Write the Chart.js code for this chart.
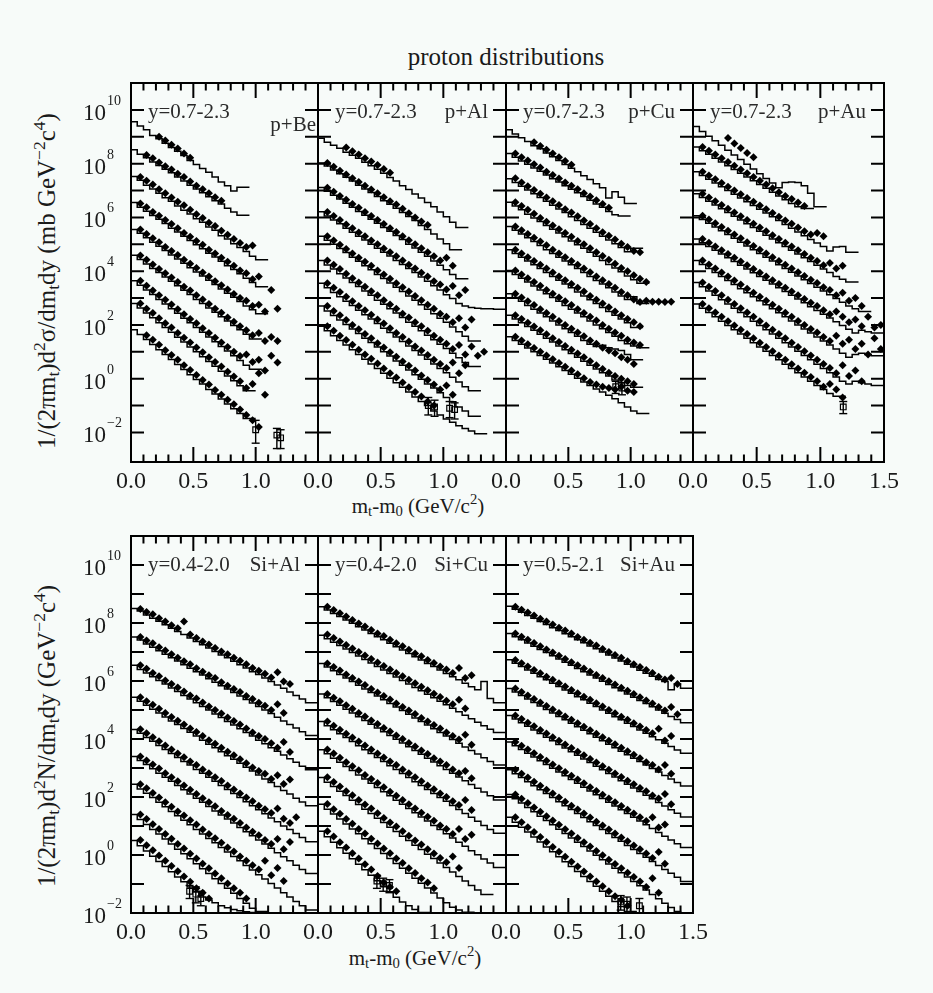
<!DOCTYPE html>
<html><head><meta charset="utf-8">
<script src="https://cdn.jsdelivr.net/npm/chart.js@4.4.1/dist/chart.umd.min.js"></script>
<style>
html,body{margin:0;padding:0}
body{background:#f7fbf9;width:933px;height:993px;position:relative;overflow:hidden;font-family:"Liberation Serif","DejaVu Serif",serif;color:#1a1a1a}
.t{position:absolute;white-space:nowrap;line-height:1}
.yt{position:absolute;white-space:nowrap;font-size:25px;line-height:1;transform:translate(-50%,-50%) rotate(-90deg)}
.xt{position:absolute;white-space:nowrap;font-size:21px;line-height:1;transform:translate(-50%,-50%)}
sub{font-size:70%;vertical-align:-0.25em;line-height:0}
sup{font-size:70%;vertical-align:0.55em;line-height:0}
.an{position:absolute;white-space:nowrap;font-size:21px;line-height:21px;color:#2a2a2a}
</style></head><body>
<div class="t" style="left:356px;width:300px;top:44px;text-align:center;font-size:25px">proton distributions</div>
<div class="yt" style="left:46px;top:281px">1/(2πm<sub>t</sub>)d<sup>2</sup>σ/dm<sub>t</sub>dy (mb GeV<sup>−2</sup>c<sup>4</sup>)</div>
<div class="yt" style="left:46px;top:736px">1/(2πm<sub>t</sub>)d<sup>2</sup>N/dm<sub>t</sub>dy (GeV<sup>−2</sup>c<sup>4</sup>)</div>
<div class="xt" style="left:418px;top:506px">m<sub>t</sub>-m<sub>0</sub> (GeV/c<sup>2</sup>)</div>
<div class="xt" style="left:415px;top:958px">m<sub>t</sub>-m<sub>0</sub> (GeV/c<sup>2</sup>)</div>
<script>
// ---------------- data (log10 of the plotted values) ----------------
const HIST_STEP = 0.05;            // histogram bin width and point spacing (GeV/c^2)
const X_TICK_LABELS = ['0.0','0.5','1.0','1.5'];
const Y_LABEL_EXPS = [10,8,6,4,2,0,-2];
const TOP_DECADES = [-2,-1,0,1,2,3,4,5,6,7,8,9,10];
const BOTTOM_DECADES = [-1,0,1,2,3,4,5,6,7,8,9,10];
const TOP_YMIN_EXP = -3.1, BOTTOM_YMIN_EXP = -2, YMAX_EXP = 11;
const PANEL_TAGS = ['p+Be','p+Al','p+Cu','p+Au','Si+Al','Si+Cu','Si+Au'];
const PANEL_RAPIDITY = ['y=0.7-2.3','y=0.7-2.3','y=0.7-2.3','y=0.7-2.3','y=0.4-2.0','y=0.4-2.0','y=0.5-2.1'];

// p+Be
const pBeHist = [
[9.68,9.56,9.4,9.26,9.05,8.93,8.76,8.6,8.46,8.3,8.12,7.97,7.82,7.68,7.5,7.32,7.18,6.98,7.12],
[8.66,8.52,8.35,8.22,8.06,7.93,7.79,7.66,7.5,7.35,7.2,7.06,6.92,6.77,6.62,6.5,6.34,6.2,6.08],
[7.68,7.52,7.38,7.2,7.06,6.9,6.73,6.6,6.42,6.27,6.13,5.95,5.82,5.64,5.52,5.32,5.2,5.02,4.88,4.73,4.55,4.42],
[6.7,6.55,6.38,6.23,6.07,5.93,5.77,5.6,5.46,5.3,5.14,4.98,4.83,4.67,4.53,4.37,4.2,4.06,3.9,3.74,3.58,3.42],
[5.72,5.55,5.41,5.24,5.08,4.93,4.77,4.6,4.45,4.29,4.13,3.97,3.82,3.66,3.5,3.34,3.18,3.03,2.87,2.7,2.56,2.42],
[4.75,4.59,4.43,4.27,4.1,3.95,3.78,3.62,3.46,3.29,3.13,2.95,2.8,2.63,2.47,2.3,2.15,1.98,1.82,1.65,1.48],
[3.8,3.64,3.48,3.3,3.13,2.95,2.78,2.6,2.43,2.25,2.08,1.9,1.73,1.55,1.37,1.2,1.03,0.85,0.68,0.5,0.35],
[2.98,2.8,2.63,2.44,2.27,2.08,1.9,1.73,1.54,1.36,1.18,1.0,0.82,0.64,0.46,0.28,0.1,-0.08,-0.26,-0.45],
[2.02,1.82,1.64,1.46,1.27,1.08,0.9,0.71,0.53,0.34,0.15,-0.03,-0.2,-0.4,-0.57,-0.76,-0.94,-1.12,-1.3,-1.48]
];
const pBePtStart = [4,2,1,1,1,1,1,1,2];
const pBePts = [
[9.0,8.86,8.7,8.56,8.38,8.22],
[8.32,8.2,8.04,7.9,7.78,7.62,7.5,7.34,7.18,7.05,6.9,6.75,6.62],
[7.5,7.36,7.22,7.05,6.9,6.74,6.58,6.45,6.28,6.12,5.98,5.8,5.68,5.5,5.35,5.2,5.05,4.9,4.95],
[6.52,6.38,6.2,6.06,5.9,5.75,5.6,5.42,5.28,5.12,4.98,4.8,4.66,4.5,4.35,4.2,4.02,3.92,3.7,3.8],
[5.55,5.38,5.22,5.08,4.9,4.75,4.6,4.42,4.28,4.12,3.95,3.8,3.62,3.48,3.32,3.15,3.0,2.9,2.7,2.75,2.5,3.3,2.6],
[4.58,4.42,4.25,4.08,3.92,3.76,3.6,3.42,3.28,3.1,2.95,2.78,2.6,2.45,2.28,2.12,1.95,1.8,1.62,1.7,1.4,1.55,1.4],
[3.64,3.46,3.28,3.1,2.94,2.76,2.58,2.4,2.22,2.06,1.88,1.7,1.52,1.35,1.18,1.0,0.84,0.9,0.62,0.7,0.3,0.85,0.6],
[2.8,2.6,2.44,2.25,2.06,1.9,1.7,1.52,1.35,1.16,0.98,0.8,0.62,0.45,0.26,0.08,-0.1,-0.35,-0.2,0.2,-0.6],
[1.62,1.45,1.26,1.06,0.88,0.7,0.5,0.32,0.14,-0.05,-0.22,-0.42,-0.6,-0.78,-0.95,-1.15,-1.35,-1.55,-1.8]
];
const pBeErr = [[1.0,-1.9,-1.55,-2.4],[1.17,-2.1,-1.85,-2.6],[1.2,-2.2,-1.9,-2.6]];

// p+Al
const pAlHist = [
[9.05,8.94,8.8,8.68,8.57,8.42,8.31,8.2,8.05,7.92,7.79,7.64,7.48,7.35,7.18,7.04,6.87,6.72,6.55,6.4,6.2,6.02,5.82,5.62],
[8.15,8.02,7.91,7.76,7.62,7.49,7.35,7.2,7.06,6.93,6.78,6.62,6.49,6.34,6.18,6.03,5.88,5.7,5.55,5.38,5.2,5.02,4.8],
[7.25,7.11,6.97,6.82,6.68,6.53,6.38,6.22,6.08,5.93,5.78,5.62,5.48,5.33,5.18,5.0,4.86,4.7,4.55,4.38,4.22,4.05,3.88,3.72],
[6.35,6.21,6.05,5.9,5.76,5.6,5.45,5.3,5.16,5.0,4.85,4.7,4.56,4.4,4.25,4.1,3.95,3.78,3.62,3.46,3.3,3.12,2.98,2.8,2.7,2.65,2.62,2.6,2.6,2.58],
[5.45,5.3,5.15,5.0,4.84,4.69,4.52,4.37,4.2,4.05,3.88,3.73,3.56,3.4,3.24,3.08,2.92,2.75,2.58,2.42,2.25,2.1,1.92,1.75,1.58,1.4],
[4.55,4.4,4.23,4.08,3.9,3.75,3.58,3.43,3.26,3.1,2.92,2.77,2.6,2.44,2.28,2.1,1.95,1.78,1.62,1.45,1.28,1.12,0.95,0.78,0.6,0.45],
[3.7,3.55,3.38,3.21,3.05,2.88,2.72,2.55,2.38,2.22,2.05,1.88,1.72,1.55,1.38,1.22,1.05,0.88,0.72,0.55,0.38,0.22,0.05,-0.12,-0.3,-0.45],
[2.85,2.7,2.52,2.35,2.18,2.02,1.85,1.68,1.5,1.35,1.18,1.0,0.84,0.66,0.5,0.32,0.15,-0.02,-0.2,-0.35,-0.52,-0.7,-0.86,-1.05,-1.2,-1.4],
[2.1,1.95,1.78,1.6,1.42,1.25,1.08,0.9,0.72,0.55,0.38,0.2,0.02,-0.15,-0.32,-0.5,-0.68,-0.85,-1.0,-1.2,-1.35,-1.5,-1.62,-1.75,-1.85,-1.95,-2.05]
];
const pAlPtStart = [4,1,1,1,1,1,1,1,1];
const pAlPts = [
[8.6,8.46,8.34,8.2,8.08,7.95,7.8,7.66],
[8.02,7.88,7.74,7.6,7.46,7.32,7.18,7.04,6.9,6.75,6.6,6.48,6.32,6.15,6.0,5.85,5.72],
[7.1,6.95,6.8,6.66,6.5,6.36,6.2,6.05,5.9,5.75,5.6,5.46,5.3,5.15,5.0,4.85,4.7,4.55,4.4,4.5,4.2],
[6.2,6.05,5.9,5.74,5.6,5.44,5.3,5.14,5.0,4.84,4.7,4.55,4.4,4.24,4.1,3.94,3.8,3.62,3.5,3.32,3.45,3.1,3.3],
[5.3,5.14,4.98,4.82,4.66,4.5,4.35,4.2,4.02,3.88,3.72,3.55,3.4,3.24,3.08,2.92,2.75,2.6,2.42,2.3,2.1,2.25,1.9,2.2],
[4.4,4.24,4.08,3.9,3.74,3.58,3.42,3.25,3.1,2.92,2.76,2.6,2.42,2.28,2.1,1.95,1.78,1.6,1.45,1.3,1.1,1.25,0.9,1.2,0.85,1.0],
[3.55,3.38,3.22,3.05,2.88,2.7,2.55,2.38,2.2,2.05,1.88,1.7,1.55,1.38,1.2,1.05,0.88,0.7,0.55,0.4,0.6,0.2,0.5],
[2.7,2.52,2.36,2.18,2.0,1.84,1.66,1.5,1.32,1.16,0.98,0.82,0.64,0.48,0.3,0.12,-0.05,-0.22,-0.4,-0.25,-0.6],
[1.95,1.78,1.6,1.44,1.26,1.08,0.9,0.74,0.56,0.38,0.2,0.04,-0.14,-0.32,-0.5,-0.66,-0.85,-1.0]
];
const pAlErr = [[0.88,-1.0,-0.7,-1.35],[0.93,-1.05,-0.8,-1.4],[1.05,-1.1,-0.85,-1.45],[1.09,-1.15,-0.9,-1.5]];

// p+Cu
const pCuHist = [
[9.38,9.26,9.1,8.96,8.82,8.67,8.55,8.4,8.26,8.12,7.97,7.83,7.7,7.55,7.41,7.25,7.1,6.72,6.95,6.75,6.52],
[8.5,8.38,8.24,8.1,7.98,7.84,7.72,7.58,7.44,7.32,7.18,7.05,6.92,6.78,6.64,6.5,6.38,6.22,6.1,6.05],
[7.58,7.44,7.3,7.16,7.02,6.88,6.74,6.6,6.45,6.31,6.18,6.02,5.88,5.74,5.6,5.45,5.3,5.16,5.02,4.88,4.72,4.85],
[6.7,6.56,6.42,6.28,6.12,5.98,5.85,5.7,5.56,5.42,5.28,5.12,4.98,4.85,4.7,4.55,4.4,4.25,4.12,3.98,3.82,3.68,3.55],
[5.8,5.66,5.52,5.38,5.24,5.1,4.95,4.8,4.66,4.52,4.38,4.24,4.1,3.95,3.8,3.65,3.52,3.38,3.22,3.08,2.95,3.05,2.8],
[4.95,4.8,4.66,4.52,4.38,4.24,4.1,3.95,3.8,3.66,3.52,3.38,3.22,3.08,2.94,2.8,2.65,2.5,2.36,2.22,2.08,1.9],
[4.17,4.02,3.88,3.74,3.6,3.45,3.3,3.16,3.02,2.88,2.72,2.58,2.44,2.3,2.15,2.0,1.86,1.72,1.58,1.42,1.3,1.22,1.15],
[3.3,3.16,3.02,2.88,2.72,2.58,2.44,2.3,2.15,2.0,1.86,1.72,1.58,1.42,1.28,1.2,1.24,1.15,1.1,1.05,0.9,0.7],
[2.5,2.36,2.22,2.08,1.94,1.8,1.65,1.5,1.36,1.22,1.08,0.94,0.8,0.65,0.5,0.36,0.22,0.1,-0.05,-0.15,-0.25,-0.32],
[1.7,1.56,1.42,1.28,1.14,1.0,0.86,0.72,0.58,0.44,0.3,0.16,0.02,-0.12,-0.25,-0.38,-0.5,-0.62,-0.75,-0.9,-1.05,-1.2,-1.3]
];
const pCuPtStart = [4,1,1,1,1,1,1,1,1,1];
const pCuPts = [
[8.8,8.66,8.52,8.38,8.24,8.1,7.96],
[8.38,8.24,8.12,7.98,7.86,7.7,7.58,7.45,7.3,7.18,7.05,6.9,6.78,6.64,6.5,6.36],
[7.46,7.3,7.16,7.02,6.88,6.74,6.6,6.46,6.3,6.18,6.04,5.88,5.75,5.6,5.45,5.32,5.18,5.02,4.9,4.75,4.7],
[6.56,6.42,6.28,6.14,5.98,5.84,5.7,5.56,5.42,5.28,5.12,5.0,4.85,4.7,4.56,4.42,4.28,4.12,4.0,3.85,3.72,3.6],
[5.66,5.52,5.38,5.24,5.1,4.96,4.8,4.66,4.52,4.38,4.24,4.1,3.96,3.8,3.66,3.52,3.38,3.22,3.1,2.95,2.85,2.9,2.86,2.86,2.85,2.86],
[4.8,4.66,4.52,4.38,4.24,4.1,3.95,3.8,3.66,3.52,3.38,3.24,3.08,2.94,2.8,2.66,2.5,2.36,2.22,2.1,1.95],
[4.02,3.88,3.74,3.6,3.46,3.3,3.16,3.02,2.88,2.74,2.58,2.44,2.3,2.16,2.0,1.86,1.72,1.6,1.45,1.35,1.25],
[3.16,3.02,2.88,2.74,2.58,2.44,2.3,2.15,2.0,1.86,1.72,1.58,1.42,1.3,1.15,1.05,0.95,0.8,0.7,0.55],
[2.36,2.22,2.08,1.94,1.8,1.65,1.5,1.36,1.22,1.08,0.94,0.8,0.65,0.5,0.36,0.22,0.1,0.0,-0.1,-0.2],
[1.56,1.42,1.28,1.14,1.0,0.86,0.72,0.58,0.44,0.3,0.16,0.02,-0.12,-0.22,-0.3,-0.35,-0.4,-0.3,-0.45,-0.5]
];
const pCuErr = [[0.88,-0.3,-0.1,-0.55],[0.93,-0.35,-0.15,-0.6]];

// p+Au
const pAuHist = [
[9.55,9.38,9.2,9.02,8.85,8.68,8.5,8.32,8.15,7.98,7.8,7.62,7.45,7.28,7.1,7.3,7.32,7.3,7.18,6.9,6.4],
[8.76,8.62,8.48,8.35,8.2,8.06,7.92,7.78,7.64,7.5,7.36,7.22,7.08,6.94,6.8,6.66,6.52,6.4,6.33],
[7.83,7.7,7.56,7.42,7.28,7.14,7.0,6.86,6.72,6.58,6.44,6.3,6.16,6.02,5.88,5.74,5.6,5.46,5.32,5.18,5.05,4.92,4.75,4.9,4.92,4.7],
[7.02,6.88,6.74,6.6,6.46,6.32,6.18,6.04,5.9,5.76,5.62,5.48,5.34,5.2,5.06,4.92,4.78,4.64,4.5,4.36,4.22,4.08,3.95,3.8,3.7,3.6],
[6.2,6.06,5.92,5.78,5.64,5.5,5.36,5.22,5.08,4.94,4.8,4.66,4.52,4.38,4.24,4.1,3.96,3.82,3.68,3.54,3.4,3.26,3.12,2.98,2.84,2.7,2.6,2.5],
[5.35,5.2,5.06,4.92,4.78,4.64,4.5,4.36,4.22,4.08,3.94,3.8,3.66,3.52,3.38,3.24,3.1,2.96,2.82,2.68,2.54,2.4,2.26,2.12,1.98,1.84,1.7,1.8,1.75,1.7],
[4.54,4.4,4.25,4.1,3.95,3.8,3.65,3.5,3.35,3.2,3.05,2.9,2.75,2.6,2.45,2.3,2.15,2.0,1.85,1.7,1.55,1.4,1.25,1.1,0.95,0.8,0.9,0.95,0.9,0.85],
[3.73,3.58,3.42,3.26,3.1,2.94,2.78,2.62,2.46,2.3,2.14,1.98,1.82,1.66,1.5,1.34,1.18,1.02,0.86,0.7,0.54,0.38,0.22,0.06,-0.1,-0.2,-0.1,-0.15,-0.2,-0.25],
[2.94,2.78,2.62,2.46,2.3,2.14,1.98,1.82,1.66,1.5,1.34,1.18,1.02,0.86,0.7,0.54,0.38,0.22,0.06,-0.1,-0.25,-0.4,-0.55,-0.65]
];
const pAuPtStart = [5,1,1,1,1,1,1,1,1];
const pAuPts = [
[8.95,8.75,8.58,8.4,8.24],
[8.62,8.48,8.34,8.2,8.06,7.92,7.78,7.64,7.5,7.36,7.22,7.08,6.94,6.8,6.68,6.55,6.42],
[7.7,7.56,7.42,7.28,7.14,7.0,6.86,6.72,6.58,6.44,6.3,6.16,6.02,5.88,5.76,5.62,5.48,5.36,5.42,5.3],
[6.88,6.74,6.6,6.46,6.32,6.18,6.04,5.9,5.76,5.62,5.48,5.34,5.2,5.06,4.92,4.78,4.64,4.5,4.38,4.22,4.3,4.1,4.2],
[6.06,5.92,5.78,5.64,5.5,5.36,5.22,5.08,4.94,4.8,4.66,4.52,4.38,4.24,4.1,3.96,3.82,3.68,3.56,3.4,3.3,3.1,3.2,2.9,3.0,2.7],
[5.2,5.06,4.92,4.78,4.64,4.5,4.36,4.22,4.08,3.94,3.8,3.66,3.52,3.38,3.24,3.1,2.96,2.82,2.7,2.55,2.4,2.5,2.3,2.1,2.2,1.95,2.3,1.9,2.0],
[4.4,4.25,4.1,3.95,3.8,3.65,3.5,3.35,3.2,3.05,2.9,2.75,2.6,2.45,2.3,2.15,2.0,1.85,1.72,1.55,1.4,1.6,1.3,1.45,1.1,1.3,0.9,1.5,1.1],
[3.58,3.42,3.26,3.1,2.94,2.78,2.62,2.46,2.3,2.14,1.98,1.82,1.66,1.5,1.34,1.18,1.02,0.86,0.7,0.55,0.4,0.2,0.5,0.1,0.3,-0.1],
[2.78,2.62,2.46,2.3,2.14,1.98,1.82,1.66,1.5,1.34,1.18,1.02,0.86,0.7,0.54,0.38,0.22,0.06,-0.1,-0.3,-0.2,-0.4,-0.7]
];
const pAuErr = [[1.18,-1.05,-0.85,-1.3]];

// Si+Al
const siAlHist = [
[8.62,8.5,8.41,8.28,8.16,8.06,7.94,7.82,7.71,7.6,7.48,7.36,7.25,7.14,7.02,6.9,6.8,6.68,6.56,6.45,6.32,6.22,6.1,5.98,5.86,5.75,5.62,5.5,5.38,5.25],
[7.65,7.52,7.41,7.28,7.16,7.04,6.92,6.8,6.69,6.56,6.44,6.32,6.21,6.08,5.96,5.84,5.72,5.6,5.48,5.36,5.24,5.12,5.0,4.88,4.75,4.62,4.5,4.38,4.25,4.12],
[6.66,6.54,6.4,6.28,6.15,6.02,5.9,5.76,5.64,5.5,5.38,5.25,5.12,5.0,4.86,4.74,4.6,4.48,4.35,4.22,4.1,3.96,3.84,3.7,3.58,3.45,3.32,3.2,3.06,2.94],
[5.56,5.44,5.3,5.16,5.03,4.9,4.76,4.62,4.5,4.36,4.23,4.1,3.96,3.82,3.7,3.56,3.42,3.3,3.16,3.03,2.9,2.76,2.62,2.5,2.36,2.22,2.1,1.96,1.83,1.7],
[4.47,4.33,4.2,4.05,3.92,3.78,3.64,3.5,3.36,3.22,3.1,2.95,2.82,2.68,2.54,2.4,2.26,2.12,1.98,1.84,1.7,1.56,1.42,1.28,1.15,1.0,0.88,0.74,0.6,0.46],
[3.55,3.4,3.26,3.12,2.97,2.82,2.68,2.54,2.4,2.25,2.1,1.96,1.82,1.67,1.52,1.38,1.24,1.1,0.95,0.8,0.66,0.52,0.38,0.23,0.08,-0.06,-0.2,-0.35,-0.5,-0.64],
[2.6,2.44,2.28,2.13,1.98,1.82,1.66,1.5,1.35,1.2,1.04,0.88,0.72,0.57,0.42,0.26,0.1,-0.05,-0.2,-0.36,-0.52,-0.68,-0.83,-0.98,-1.14,-1.3,-1.45,-1.6,-1.75,-1.9],
[1.56,1.4,1.22,1.05,0.88,0.72,0.55,0.38,0.2,0.04,-0.13,-0.3,-0.47,-0.64,-0.82,-0.98,-1.15,-1.32,-1.5,-1.66,-1.84,-1.95],
[0.68,0.5,0.32,0.14,-0.04,-0.22,-0.4,-0.58,-0.76,-0.92,-1.1,-1.28,-1.45,-1.55,-1.65,-1.75,-1.82,-1.88,-1.92,-1.96,-1.98]
];
const siAlPtStart = [1,1,1,1,1,1,1,1,1];
const siAlPts = [
[8.48,8.38,8.3,8.16,8.05,7.92,7.82,8.05,7.6,7.48,7.36,7.26,7.14,7.02,6.92,6.8,6.7,6.58,6.45,6.35,6.25,6.12,6.3,5.98,5.9],
[7.52,7.4,7.3,7.16,7.05,6.92,6.8,6.68,6.58,6.44,6.32,6.2,6.1,5.96,5.84,5.72,5.62,5.48,5.38,5.25,5.15,5.0,5.2,4.9],
[6.54,6.42,6.28,6.16,6.02,5.9,5.78,5.64,5.5,5.4,5.26,5.12,5.0,4.88,4.74,4.62,4.5,4.36,4.22,4.1,4.0,3.85,3.7,3.9,3.55],
[5.44,5.3,5.18,5.04,4.9,4.76,4.63,4.5,4.36,4.24,4.1,3.96,3.84,3.7,3.56,3.44,3.3,3.16,3.02,2.9,2.8,2.62,2.75,2.45,2.6],
[4.34,4.2,4.06,3.92,3.78,3.64,3.5,3.37,3.22,3.1,2.95,2.82,2.68,2.55,2.4,2.26,2.12,1.98,1.85,1.7,1.58,1.45,1.6,1.25,1.1,1.3],
[3.4,3.26,3.12,2.98,2.82,2.68,2.54,2.4,2.25,2.1,1.96,1.82,1.68,1.52,1.38,1.25,1.1,0.95,0.8,0.68,0.52,0.38,0.55,0.2,0.45],
[2.44,2.3,2.14,1.98,1.82,1.66,1.5,1.36,1.2,1.05,0.88,0.72,0.58,0.42,0.26,0.12,-0.05,-0.2,-0.35,-0.5,-0.2,-0.7,-0.45,-0.9],
[1.4,1.24,1.06,0.9,0.72,0.56,0.38,0.22,0.04,-0.12,-0.3,-0.46,-0.64,-0.8,-0.98,-1.15,-1.3,-1.5],
[0.52,0.34,0.16,-0.02,-0.2,-0.38,-0.56,-0.74,-0.92,-1.15,-1.3,-1.5]
];
const siAlErr = [[0.47,-1.25,-1.05,-1.5],[0.52,-1.35,-1.1,-1.65],[0.56,-1.5,-1.25,-1.75]];

// Si+Cu
const siCuHist = [
[8.68,8.56,8.45,8.33,8.22,8.1,7.99,7.87,7.76,7.64,7.53,7.42,7.3,7.18,7.07,6.95,6.84,6.72,6.6,6.5,6.38,6.26,6.15,6.04,5.92,5.8,5.7,5.98,5.4,5.25],
[7.7,7.58,7.46,7.34,7.22,7.1,6.98,6.86,6.74,6.62,6.5,6.38,6.26,6.14,6.02,5.9,5.78,5.66,5.54,5.42,5.3,5.18,5.06,4.94,4.82,4.7,4.58,4.46,4.34,4.22],
[6.72,6.6,6.48,6.35,6.22,6.1,5.98,5.85,5.72,5.6,5.48,5.35,5.22,5.1,4.98,4.85,4.72,4.6,4.48,4.35,4.22,4.1,3.98,3.85,3.72,3.6,3.48,3.35,3.22,3.1],
[5.68,5.55,5.42,5.29,5.16,5.03,4.9,4.77,4.64,4.51,4.38,4.25,4.12,3.99,3.86,3.73,3.6,3.47,3.34,3.21,3.08,2.95,2.82,2.69,2.56,2.43,2.3,2.17,2.04,1.9],
[4.73,4.6,4.46,4.32,4.18,4.05,3.91,3.77,3.63,3.5,3.36,3.22,3.08,2.95,2.81,2.67,2.53,2.4,2.26,2.12,1.98,1.85,1.71,1.57,1.43,1.3,1.16,1.02,0.88,0.75],
[3.78,3.63,3.49,3.34,3.2,3.05,2.91,2.76,2.62,2.47,2.33,2.18,2.04,1.89,1.75,1.6,1.46,1.31,1.17,1.02,0.88,0.73,0.59,0.44,0.3,0.15,0.01,-0.14,-0.28,-0.43],
[2.82,2.67,2.51,2.36,2.2,2.05,1.89,1.74,1.58,1.43,1.27,1.12,0.96,0.81,0.65,0.5,0.34,0.19,0.03,-0.12,-0.28,-0.43,-0.59,-0.74,-0.9,-1.05,-1.21,-1.36],
[1.92,1.75,1.58,1.41,1.24,1.07,0.9,0.73,0.56,0.39,0.22,0.05,-0.12,-0.29,-0.46,-0.63,-0.8,-0.97,-1.14,-1.31,-1.48,-1.65,-1.8,-1.9,-1.97],
[1.01,0.82,0.63,0.44,0.25,0.06,-0.13,-0.32,-0.51,-0.7,-0.89,-1.08,-1.27,-1.46,-1.62,-1.75,-1.88,-1.98]
];
const siCuPtStart = [1,1,1,1,1,1,1,1,1];
const siCuPts = [
[8.56,8.45,8.34,8.22,8.1,7.98,7.88,7.76,7.64,7.55,7.42,7.3,7.2,7.08,6.95,6.85,6.72,6.62,6.5,6.4,6.28,6.45,6.1,6.2],
[7.6,7.48,7.36,7.24,7.12,7.0,6.88,6.76,6.64,6.52,6.4,6.28,6.16,6.04,5.92,5.8,5.68,5.56,5.45,5.32,5.2,5.35,5.05],
[6.6,6.48,6.36,6.22,6.1,5.98,5.86,5.72,5.6,5.48,5.36,5.22,5.1,4.98,4.86,4.72,4.6,4.48,4.36,4.22,4.1,3.98,4.15,3.8],
[5.55,5.42,5.3,5.16,5.04,4.9,4.78,4.64,4.52,4.38,4.26,4.12,4.0,3.86,3.74,3.6,3.48,3.34,3.22,3.1,2.95,2.82,2.9,2.65],
[4.6,4.46,4.32,4.18,4.05,3.91,3.78,3.64,3.5,3.36,3.22,3.1,2.95,2.82,2.68,2.54,2.4,2.27,2.12,2.0,1.85,1.72,1.9,1.55],
[3.64,3.5,3.35,3.2,3.06,2.92,2.76,2.62,2.48,2.34,2.18,2.04,1.9,1.75,1.6,1.46,1.32,1.18,1.02,0.9,0.72,0.9,0.55,0.7],
[2.68,2.52,2.36,2.2,2.06,1.9,1.74,1.6,1.44,1.28,1.12,0.98,0.82,0.66,0.5,0.36,0.2,0.05,-0.1,-0.25,-0.05,-0.45],
[1.76,1.58,1.42,1.24,1.08,0.9,0.74,0.56,0.4,0.22,0.06,-0.12,-0.28,-0.46,-0.62,-0.8,-0.95,-1.15],
[0.82,0.64,0.44,0.26,0.06,-0.12,-0.32,-0.5,-0.72,-0.95,-1.1,-1.25]
];
const siCuErr = [[0.47,-0.9,-0.7,-1.15],[0.52,-1.0,-0.8,-1.25],[0.57,-1.05,-0.85,-1.3]];

// Si+Au
const siAuHist = [
[8.68,8.58,8.47,8.37,8.26,8.16,8.05,7.95,7.84,7.74,7.63,7.53,7.42,7.32,7.21,7.11,7.0,6.9,6.79,6.69,6.58,6.48,6.37,6.27,6.16,6.05,5.98,5.7,5.9,5.75],
[7.75,7.64,7.53,7.42,7.31,7.2,7.09,6.98,6.87,6.76,6.65,6.54,6.43,6.32,6.21,6.1,5.99,5.88,5.77,5.66,5.55,5.44,5.33,5.22,5.11,5.0,4.89,4.78,4.67,4.56],
[6.84,6.73,6.61,6.5,6.38,6.27,6.15,6.04,5.92,5.81,5.69,5.58,5.46,5.35,5.23,5.12,5.0,4.89,4.77,4.66,4.54,4.43,4.31,4.2,4.08,3.97,3.85,3.74,3.62,3.51],
[5.86,5.74,5.62,5.5,5.38,5.26,5.14,5.02,4.9,4.78,4.66,4.54,4.42,4.3,4.18,4.06,3.94,3.82,3.7,3.58,3.46,3.34,3.22,3.1,2.98,2.86,2.74,2.62,2.5,2.38],
[4.94,4.81,4.69,4.56,4.44,4.31,4.19,4.06,3.94,3.81,3.69,3.56,3.44,3.31,3.19,3.06,2.94,2.81,2.69,2.56,2.44,2.31,2.19,2.06,1.94,1.81,1.69,1.56,1.44,1.31],
[4.03,3.9,3.77,3.64,3.51,3.38,3.25,3.12,2.99,2.86,2.73,2.6,2.47,2.34,2.21,2.08,1.95,1.82,1.69,1.56,1.43,1.3,1.17,1.04,0.91,0.78,0.65,0.52,0.39,0.26],
[3.08,2.94,2.8,2.67,2.53,2.39,2.25,2.12,1.98,1.84,1.7,1.57,1.43,1.29,1.15,1.02,0.88,0.74,0.6,0.47,0.33,0.19,0.05,-0.08,-0.22,-0.36,-0.5,-0.63,-0.77,-0.91],
[2.24,2.09,1.94,1.79,1.64,1.49,1.34,1.19,1.04,0.89,0.74,0.59,0.44,0.29,0.14,-0.01,-0.16,-0.31,-0.46,-0.61,-0.76,-0.91,-1.06,-1.21,-1.36,-1.51,-1.66,-1.81,-1.95,-1.99],
[1.47,1.3,1.13,0.96,0.79,0.62,0.45,0.28,0.11,-0.06,-0.23,-0.4,-0.57,-0.74,-0.91,-1.08,-1.25,-1.42,-1.6,-1.78,-1.95]
];
const siAuPtStart = [1,1,1,1,1,1,1,1,1];
const siAuPts = [
[8.56,8.46,8.36,8.26,8.15,8.05,7.95,7.84,7.74,7.64,7.52,7.42,7.32,7.22,7.1,7.0,6.9,6.8,6.68,6.58,6.48,6.38,6.28,6.15,6.05,6.1,5.9],
[7.64,7.53,7.42,7.31,7.2,7.09,6.98,6.87,6.76,6.65,6.54,6.43,6.32,6.21,6.1,5.99,5.88,5.77,5.66,5.55,5.44,5.33,5.22,5.1,4.98,5.1,4.85],
[6.72,6.61,6.5,6.38,6.27,6.15,6.04,5.92,5.81,5.69,5.58,5.46,5.35,5.23,5.12,5.0,4.89,4.77,4.66,4.54,4.43,4.31,4.2,4.35,3.95,4.1],
[5.74,5.62,5.5,5.38,5.26,5.14,5.02,4.9,4.78,4.66,4.54,4.42,4.3,4.18,4.06,3.94,3.82,3.7,3.58,3.46,3.34,3.2,3.1,2.95,3.1,2.8],
[4.81,4.69,4.56,4.44,4.31,4.19,4.06,3.94,3.81,3.69,3.56,3.44,3.31,3.19,3.06,2.94,2.81,2.69,2.56,2.44,2.31,2.2,2.05,1.95,2.1,1.75],
[3.9,3.77,3.64,3.51,3.38,3.25,3.12,2.99,2.86,2.73,2.6,2.47,2.34,2.21,2.08,1.95,1.82,1.69,1.56,1.43,1.3,1.17,1.3,0.95,1.05],
[2.94,2.8,2.67,2.53,2.39,2.25,2.12,1.98,1.84,1.7,1.57,1.43,1.29,1.15,1.02,0.88,0.74,0.6,0.47,0.33,0.2,0.05,-0.1,0.1,-0.3],
[2.09,1.94,1.79,1.64,1.49,1.34,1.19,1.04,0.89,0.74,0.59,0.44,0.29,0.14,-0.01,-0.16,-0.31,-0.46,-0.61,-0.76,-0.91,-1.1,-0.8,-1.3],
[1.3,1.13,0.96,0.79,0.62,0.45,0.28,0.11,-0.06,-0.23,-0.4,-0.57,-0.74,-0.91,-1.08,-1.25,-1.42,-1.55,-1.75]
];
const siAuErr = [[0.92,-1.6,-1.4,-1.9],[0.97,-1.7,-1.45,-2.0],[1.07,-1.75,-1.5,-2.0]];

// ---------------- layout ----------------
const COLS = [131,318,506,693,884];
const ROWS = [[83,462],[536,913]];
const panels = [
 {hist:pBeHist, pts:pBePts, start:pBePtStart, err:pBeErr, row:0, col:0, last:false},
 {hist:pAlHist, pts:pAlPts, start:pAlPtStart, err:pAlErr, row:0, col:1, last:false},
 {hist:pCuHist, pts:pCuPts, start:pCuPtStart, err:pCuErr, row:0, col:2, last:false},
 {hist:pAuHist, pts:pAuPts, start:pAuPtStart, err:pAuErr, row:0, col:3, last:true},
 {hist:siAlHist, pts:siAlPts, start:siAlPtStart, err:siAlErr, row:1, col:0, last:false},
 {hist:siCuHist, pts:siCuPts, start:siCuPtStart, err:siCuErr, row:1, col:1, last:false},
 {hist:siAuHist, pts:siAuPts, start:siAuPtStart, err:siAuErr, row:1, col:2, last:true}
];

const SERIF = '"Liberation Serif","DejaVu Serif",serif';
const framePlugin = {
  id: 'frame',
  afterDatasetsDraw(chart, args, o) {
    const {ctx, chartArea: a, scales: {x, y}} = chart;
    ctx.save();
    ctx.strokeStyle = '#000'; ctx.lineWidth = 2;
    ctx.beginPath();
    ctx.rect(a.left, a.top, a.right - a.left, a.bottom - a.top);
    for (let k = 1; k < 15; k++) {
      const px = x.getPixelForValue(k / 10);
      const L = k % 5 === 0 ? 15 : 7.5;
      ctx.moveTo(px, a.bottom); ctx.lineTo(px, a.bottom - L);
      ctx.moveTo(px, a.top); ctx.lineTo(px, a.top + L);
    }
    for (const e of o.decades) {
      const py = y.getPixelForValue(Math.pow(10, e));
      ctx.moveTo(a.left, py); ctx.lineTo(a.left + 13, py);
      ctx.moveTo(a.right, py); ctx.lineTo(a.right - 13, py);
    }
    ctx.stroke();
    ctx.fillStyle = '#1a1a1a';
    ctx.textBaseline = 'alphabetic';
    ctx.font = '24px ' + SERIF; ctx.textAlign = 'center';
    for (const l of o.xLabels) ctx.fillText(l, x.getPixelForValue(parseFloat(l)), a.bottom + 26);
    if (o.yLabels) {
      for (const e of Y_LABEL_EXPS) {
        const py = y.getPixelForValue(Math.pow(10, e));
        ctx.font = '23px ' + SERIF; ctx.textAlign = 'right';
        ctx.fillText('10', a.left - 25, py + 10);
        ctx.font = '14px ' + SERIF; ctx.textAlign = 'left';
        ctx.fillText(e < 0 ? '\u2212' + (-e) : String(e), a.left - 24, py - 5);
      }
    }
    ctx.restore();
  }
};

panels.forEach((p, idx) => {
  const L = COLS[p.col], R = COLS[p.col + 1];
  const T = ROWS[p.row][0], B = ROWS[p.row][1];
  const pl = p.col === 0 ? 115 : 22, pr = 25, pt = 10, pb = 40;
  const W = R - L + pl + pr, H = B - T + pt + pb;
  const cv = document.createElement('canvas');
  cv.width = W; cv.height = H;
  cv.style.cssText = `position:absolute;left:${L - pl}px;top:${T - pt}px;width:${W}px;height:${H}px`;
  document.body.appendChild(cv);

  // annotations
  const a1 = document.createElement('div');
  a1.className = 'an'; a1.textContent = PANEL_RAPIDITY[idx];
  a1.style.left = (L + 17) + 'px'; a1.style.top = (T + 18) + 'px';
  document.body.appendChild(a1);
  const a2 = document.createElement('div');
  a2.className = 'an'; a2.textContent = PANEL_TAGS[idx];
  const rOff = idx === 0 ? 2 : 18;
  a2.style.right = (933 - (R - rOff)) + 'px'; a2.style.top = (T + (idx === 0 ? 31 : 18)) + 'px';
  document.body.appendChild(a2);

  const ds = [];
  p.hist.forEach(h => {
    const d = h.map((v, i) => ({x: i * HIST_STEP, y: Math.pow(10, v)}));
    d.push({x: h.length * HIST_STEP, y: Math.pow(10, h[h.length - 1])});
    ds.push({data: d, stepped: 'after', borderColor: '#000', borderWidth: 1.5, pointRadius: 0, fill: false});
  });
  p.pts.forEach((s, k) => {
    ds.push({data: s.map((v, i) => ({x: (p.start[k] + i + 0.5) * HIST_STEP, y: Math.pow(10, v)})),
      showLine: false, pointStyle: 'rectRot', pointRadius: 4, pointBackgroundColor: '#000',
      pointBorderColor: '#000', pointBorderWidth: 0});
  });
  p.err.forEach(e => {
    ds.push({data: [{x: e[0], y: Math.pow(10, e[2])}, {x: e[0], y: Math.pow(10, e[3])}],
      borderColor: '#000', borderWidth: 1.4, pointStyle: 'line', pointRadius: 4,
      pointBorderWidth: 1.4, pointBorderColor: '#000'});
    ds.push({data: [{x: e[0], y: Math.pow(10, e[1])}], showLine: false, pointStyle: 'rect',
      pointRadius: 4, pointBackgroundColor: 'rgba(0,0,0,0)', pointBorderColor: '#000', pointBorderWidth: 1.2});
  });

  new Chart(cv, {
    type: 'line',
    data: {datasets: ds},
    options: {
      responsive: false, animation: false, devicePixelRatio: 1,
      layout: {padding: {left: pl, right: pr, top: pt, bottom: pb}},
      events: [],
      plugins: {
        legend: {display: false}, tooltip: {enabled: false},
        frame: {
          decades: p.row === 0 ? TOP_DECADES : BOTTOM_DECADES,
          xLabels: p.last ? X_TICK_LABELS : X_TICK_LABELS.slice(0, 3),
          yLabels: p.col === 0
        }
      },
      scales: {
        x: {type: 'linear', min: 0, max: 1.5, display: false},
        y: {type: 'logarithmic', min: Math.pow(10, p.row === 0 ? TOP_YMIN_EXP : BOTTOM_YMIN_EXP),
            max: Math.pow(10, YMAX_EXP), display: false}
      },
      elements: {line: {tension: 0}}
    },
    plugins: [framePlugin]
  });
});
</script>
</body></html>
